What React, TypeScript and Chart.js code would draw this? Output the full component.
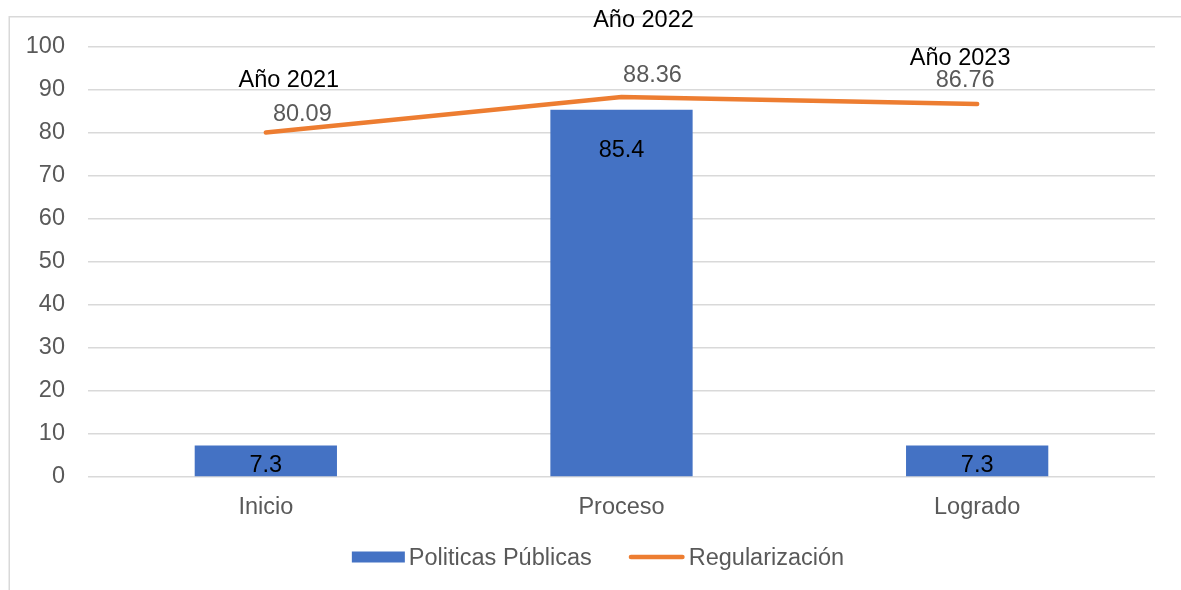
import { useEffect, useRef } from "react";
import { Chart, registerables } from "chart.js";

Chart.register(...registerables);

const categories = ["Inicio", "Proceso", "Logrado"];
const politicasPublicas = [7.3, 85.4, 7.3];
const regularizacion = [80.09, 88.36, 86.76];
const yearLabels = ["Año 2021", "Año 2022", "Año 2023"];
const seriesNames = ["Politicas Públicas", "Regularización"];

const FONT = '"Liberation Sans", Arial, Helvetica, sans-serif';
const FONT_SIZE = 23.5;
const BLUE = "#4472C4";
const ORANGE = "#ED7D31";
const GRID = "#D9D9D9";
const GRAY_TEXT = "#595959";

// label placement (offsets from each line point, in px): value label and year label
const lineLabelOffsets = [
  { vx: 36.5, vy: -11.6, yx: 23, yy: -45.6 },
  { vx: 31, vy: -15, yx: 22, yy: -70 },
  { vx: -12, vy: -17, yx: -17, yy: -39 },
];

const labelsPlugin = {
  id: "customLabels",
  beforeDraw(chart: any) {
    const ctx = chart.ctx;
    ctx.save();
    ctx.fillStyle = "#fff";
    ctx.fillRect(0, 0, chart.width, chart.height);
    ctx.strokeStyle = GRID;
    ctx.lineWidth = 1.5;
    ctx.beginPath();
    ctx.moveTo(9.25, chart.height + 10);
    ctx.lineTo(9.25, 16.75);
    ctx.lineTo(chart.width + 10, 16.75);
    ctx.stroke();
    ctx.restore();
  },
  afterDatasetsDraw(chart: any) {
    const ctx = chart.ctx;
    ctx.save();
    ctx.font = `${FONT_SIZE}px ${FONT}`;
    ctx.textAlign = "center";
    ctx.textBaseline = "alphabetic";

    const barMeta = chart.getDatasetMeta(0);
    barMeta.data.forEach((bar: any, i: number) => {
      const { x, y, base } = bar.getProps(["x", "y", "base"], true);
      const baseline = Math.min(y + 47, base - 4);
      ctx.fillStyle = "#000";
      ctx.fillText(String(politicasPublicas[i]), x, baseline);
    });

    const lineMeta = chart.getDatasetMeta(1);
    lineMeta.data.forEach((pt: any, i: number) => {
      const { x, y } = pt.getProps(["x", "y"], true);
      const o = lineLabelOffsets[i];
      ctx.fillStyle = GRAY_TEXT;
      ctx.fillText(regularizacion[i].toFixed(2), x + o.vx, y + o.vy);
      ctx.fillStyle = "#000";
      ctx.fillText(yearLabels[i], x + o.yx, y + o.yy);
    });
    ctx.restore();
  },
  afterDraw(chart: any) {
    const ctx = chart.ctx;
    ctx.save();
    ctx.font = `${FONT_SIZE}px ${FONT}`;
    ctx.textBaseline = "alphabetic";
    ctx.textAlign = "left";
    const symW = 53;
    const symGap = 4;
    const itemGap = 37;
    const lineSymW = 56;
    const w1 = ctx.measureText(seriesNames[0]).width;
    const w2 = ctx.measureText(seriesNames[1]).width;
    const total = symW + symGap + w1 + itemGap + lineSymW + symGap + w2;
    const cx = chart.width / 2 + 7.5;
    const cy = 557;
    let x = cx - total / 2;
    ctx.fillStyle = BLUE;
    ctx.fillRect(x, cy - 5.5, symW, 11);
    x += symW + symGap;
    ctx.fillStyle = GRAY_TEXT;
    ctx.fillText(seriesNames[0], x, cy + 0.358 * FONT_SIZE);
    x += w1 + itemGap;
    ctx.strokeStyle = ORANGE;
    ctx.lineWidth = 4.5;
    ctx.lineCap = "round";
    ctx.beginPath();
    ctx.moveTo(x + 2.25, cy);
    ctx.lineTo(x + lineSymW - 2.25, cy);
    ctx.stroke();
    x += lineSymW + symGap;
    ctx.fillStyle = GRAY_TEXT;
    ctx.fillText(seriesNames[1], x, cy + 0.358 * FONT_SIZE);
    ctx.restore();
  },
};

export default function App() {
  const ref = useRef<HTMLCanvasElement>(null);

  useEffect(() => {
    const canvas = ref.current;
    if (!canvas) return;
    const chart = new Chart(canvas, {
      type: "bar",
      data: {
        labels: categories,
        datasets: [
          {
            type: "bar",
            label: seriesNames[0],
            data: politicasPublicas,
            backgroundColor: BLUE,
            barPercentage: 0.4,
            categoryPercentage: 1,
            order: 1,
          },
          {
            type: "line",
            label: seriesNames[1],
            data: regularizacion,
            borderColor: ORANGE,
            backgroundColor: ORANGE,
            borderWidth: 4.5,
            pointRadius: 0,
            pointHoverRadius: 0,
            borderCapStyle: "round",
            borderJoinStyle: "round",
            tension: 0,
            order: 0,
          },
        ] as any,
      },
      options: {
        responsive: false,
        animation: false,
        devicePixelRatio: 1,
        layout: { padding: { left: 0, right: 26, top: 47, bottom: 43 } },
        plugins: {
          legend: { display: false },
          tooltip: { enabled: false },
        },
        scales: {
          x: {
            grid: { display: false },
            border: { display: false },
            ticks: {
              color: GRAY_TEXT,
              font: { family: FONT, size: FONT_SIZE },
              padding: 8,
            },
            afterFit(s: any) {
              s.height = 70;
            },
          },
          y: {
            min: 0,
            max: 100,
            ticks: {
              stepSize: 10,
              color: GRAY_TEXT,
              font: { family: FONT, size: FONT_SIZE },
              padding: 23,
            },
            grid: { color: GRID, lineWidth: 1.5, drawTicks: false },
            border: { display: false },
            afterFit(s: any) {
              s.width = 88;
            },
          },
        },
      } as any,
      plugins: [labelsPlugin],
    });
    return () => chart.destroy();
  }, []);

  return (
    <div
      style={{
        position: "absolute",
        left: 0,
        top: 0,
        width: 1181,
        height: 590,
        background: "#fff",
      }}
    >
      <canvas ref={ref} width={1181} height={590} style={{ display: "block" }} />
    </div>
  );
}
